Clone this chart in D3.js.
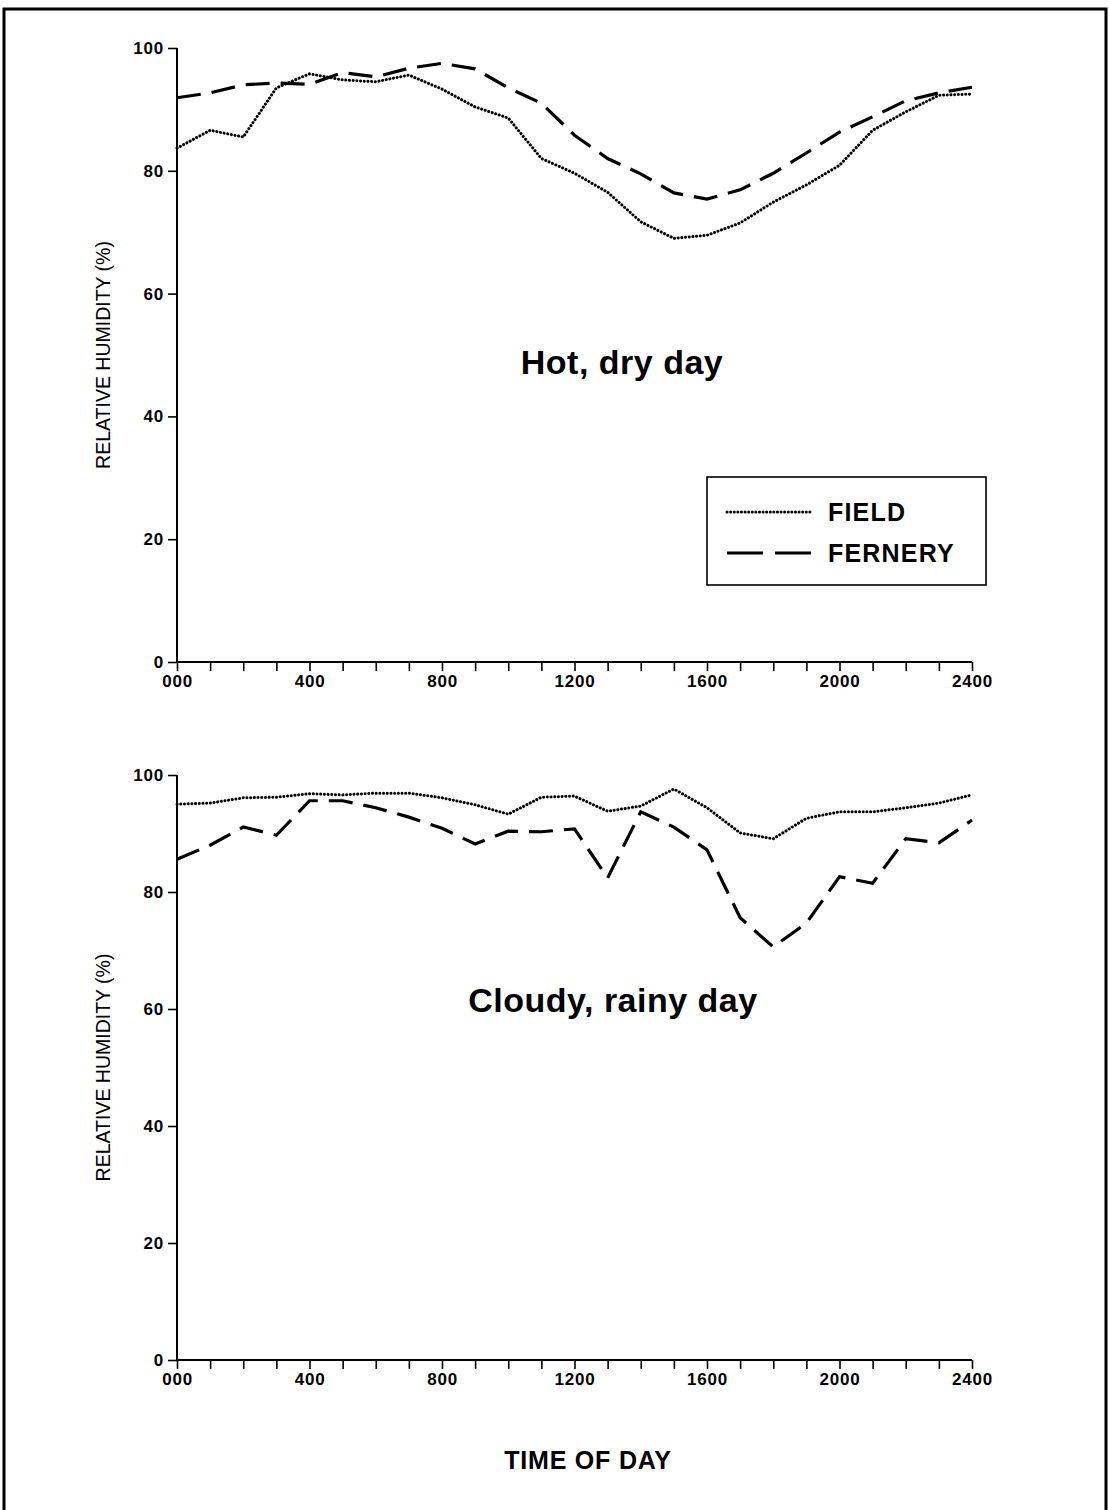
<!DOCTYPE html>
<html>
<head>
<meta charset="utf-8">
<script src="https://cdn.jsdelivr.net/npm/d3@7"></script>
<style>
  body { margin: 0; background: #fff; }
  text { font-family: "Liberation Sans", Arial, sans-serif; fill: #000; }
</style>
</head>
<body>
<div id="chart"></div>
<script>
// hours of the day (0..2400, hourly)
var hours = d3.range(0, 2500, 100)
var xTickLabels = [0, 400, 800, 1200, 1600, 2000, 2400]
var yTicks = [0, 20, 40, 60, 80, 100]

// hot, dry day
var hotField = [83.7, 86.6, 85.5, 93.5, 95.8, 94.8, 94.5, 95.6, 93.3, 90.4, 88.6, 82.0, 79.6,
                76.5, 71.7, 69.0, 69.5, 71.5, 74.9, 77.7, 80.9, 86.6, 89.6, 92.3, 92.5]
var hotFernery = [91.9, 92.7, 94.0, 94.3, 94.1, 96.0, 95.3, 96.7, 97.5, 96.6, 93.5, 91.0, 85.8,
                  82.0, 79.5, 76.4, 75.4, 76.9, 79.6, 82.9, 86.3, 88.8, 91.4, 92.7, 93.6]

// cloudy, rainy day
var rainField = [95.0, 95.2, 96.1, 96.2, 96.8, 96.6, 96.9, 96.9, 96.1, 94.9, 93.3, 96.2, 96.4,
                 93.8, 94.7, 97.6, 94.4, 90.1, 89.1, 92.6, 93.7, 93.7, 94.4, 95.2, 96.6]
var rainFernery = [85.6, 88.0, 91.1, 89.7, 95.6, 95.6, 94.4, 92.8, 90.9, 88.2, 90.4, 90.3, 90.8,
                   82.4, 93.7, 91.1, 87.2, 75.6, 70.6, 74.7, 82.6, 81.5, 89.1, 88.4, 92.3]

var seriesNames = ["FIELD", "FERNERY"]

var width = 1109
var height = 1510

var svg = d3.select('#chart')
            .append('svg')
            .attr('width', width)
            .attr('height', height)

// page frame
svg.append('path')
    .attr('d', 'M4,1515 L4,9 L1106,9 L1106,1515')
    .attr('fill', 'none')
    .attr('stroke', '#000')
    .attr('stroke-width', 3)

var xScale = d3.scaleLinear()
                .domain([0, 2400])
                .range([177, 972])

var dotted = { dash: '0.1,3.6', width: 3, cap: 'round' }
var dashed = { dash: '24,11', width: 3.2, cap: 'butt' }

function styleTicks (sel) {
    sel.style('font-size', '17px')
        .style('font-weight', 'bold')
        .style('letter-spacing', '0.8px')
        .style('font-family', '"Liberation Sans", Arial, sans-serif')
}

function drawPanel (top, bottom, field, fernery, title, titleX, titleY) {
    var yScale = d3.scaleLinear()
                    .domain([0, 100])
                    .range([bottom, top])

    var g = svg.append('g')

    // x axis, minor ticks every 100
    var xAxis = d3.axisBottom(xScale)
                    .tickValues(hours)
                    .tickSize(9)
                    .tickFormat(function (d) {
                        if (xTickLabels.indexOf(d) < 0) return ''
                        return d === 0 ? '000' : d
                    })
    var gx = g.append('g')
                .attr('transform', 'translate(0,' + bottom + ')')
                .call(xAxis)
    gx.select('.domain').attr('stroke-width', 2).attr('d', 'M177,0H972')
    gx.selectAll('.tick line').attr('stroke-width', 1.6)
    gx.selectAll('.tick text').attr('y', 13).call(styleTicks)

    var yAxis = d3.axisLeft(yScale)
                    .tickValues(yTicks)
                    .tickSize(9)
    var gy = g.append('g')
                .attr('transform', 'translate(177,0)')
                .call(yAxis)
    gy.select('.domain').attr('stroke-width', 2).attr('d', 'M0,' + top + 'V' + bottom)
    gy.selectAll('.tick line').attr('stroke-width', 1.6)
    gy.selectAll('.tick text').attr('x', -13).call(styleTicks)

    // y label
    g.append('text')
        .attr('text-anchor', 'middle')
        .attr('transform', 'translate(110,' + ((top + bottom) / 2) + ')rotate(-90)')
        .style('font-size', '19.5px')
        .text('RELATIVE HUMIDITY (%)')

    var line = d3.line()
                .x(function (d, i) { return xScale(hours[i]) })
                .y(function (d) { return yScale(d) })

    g.append('path')
        .datum(field)
        .attr('d', line)
        .attr('fill', 'none')
        .attr('stroke', '#000')
        .attr('stroke-width', dotted.width)
        .attr('stroke-linecap', dotted.cap)
        .attr('stroke-dasharray', dotted.dash)

    g.append('path')
        .datum(fernery)
        .attr('d', line)
        .attr('fill', 'none')
        .attr('stroke', '#000')
        .attr('stroke-width', dashed.width)
        .attr('stroke-dasharray', dashed.dash)

    g.append('text')
        .attr('x', titleX)
        .attr('y', titleY)
        .attr('text-anchor', 'middle')
        .style('font-size', '34px')
        .style('font-weight', 'bold')
        .style('letter-spacing', '0.5px')
        .text(title)

    return g
}

var topPanel = drawPanel(48, 662, hotField, hotFernery, 'Hot, dry day', 622, 374)
drawPanel(775, 1360, rainField, rainFernery, 'Cloudy, rainy day', 613, 1012)

// legend
var legend = topPanel.append('g').attr('transform', 'translate(707,477)')
legend.append('rect')
    .attr('width', 279)
    .attr('height', 108)
    .attr('fill', '#fff')
    .attr('stroke', '#000')
    .attr('stroke-width', 1.6)

var styles = [dotted, dashed]
seriesNames.forEach(function (name, i) {
    var yy = 35 + i * 41
    legend.append('line')
        .attr('x1', 20)
        .attr('x2', 104)
        .attr('y1', yy)
        .attr('y2', yy)
        .attr('stroke', '#000')
        .attr('stroke-width', styles[i].width)
        .attr('stroke-linecap', styles[i].cap)
        .attr('stroke-dasharray', i === 0 ? '0.1,3.5' : '36,12')
    legend.append('text')
        .attr('x', 121)
        .attr('y', yy + 9)
        .style('font-size', '25px')
        .style('font-weight', 'bold')
        .style('letter-spacing', '1.2px')
        .text(name)
})

// x axis title
svg.append('text')
    .attr('x', 588)
    .attr('y', 1469)
    .attr('text-anchor', 'middle')
    .style('font-size', '25px')
    .style('font-weight', 'bold')
    .style('letter-spacing', '0.8px')
    .text('TIME OF DAY')
</script>
</body>
</html>
